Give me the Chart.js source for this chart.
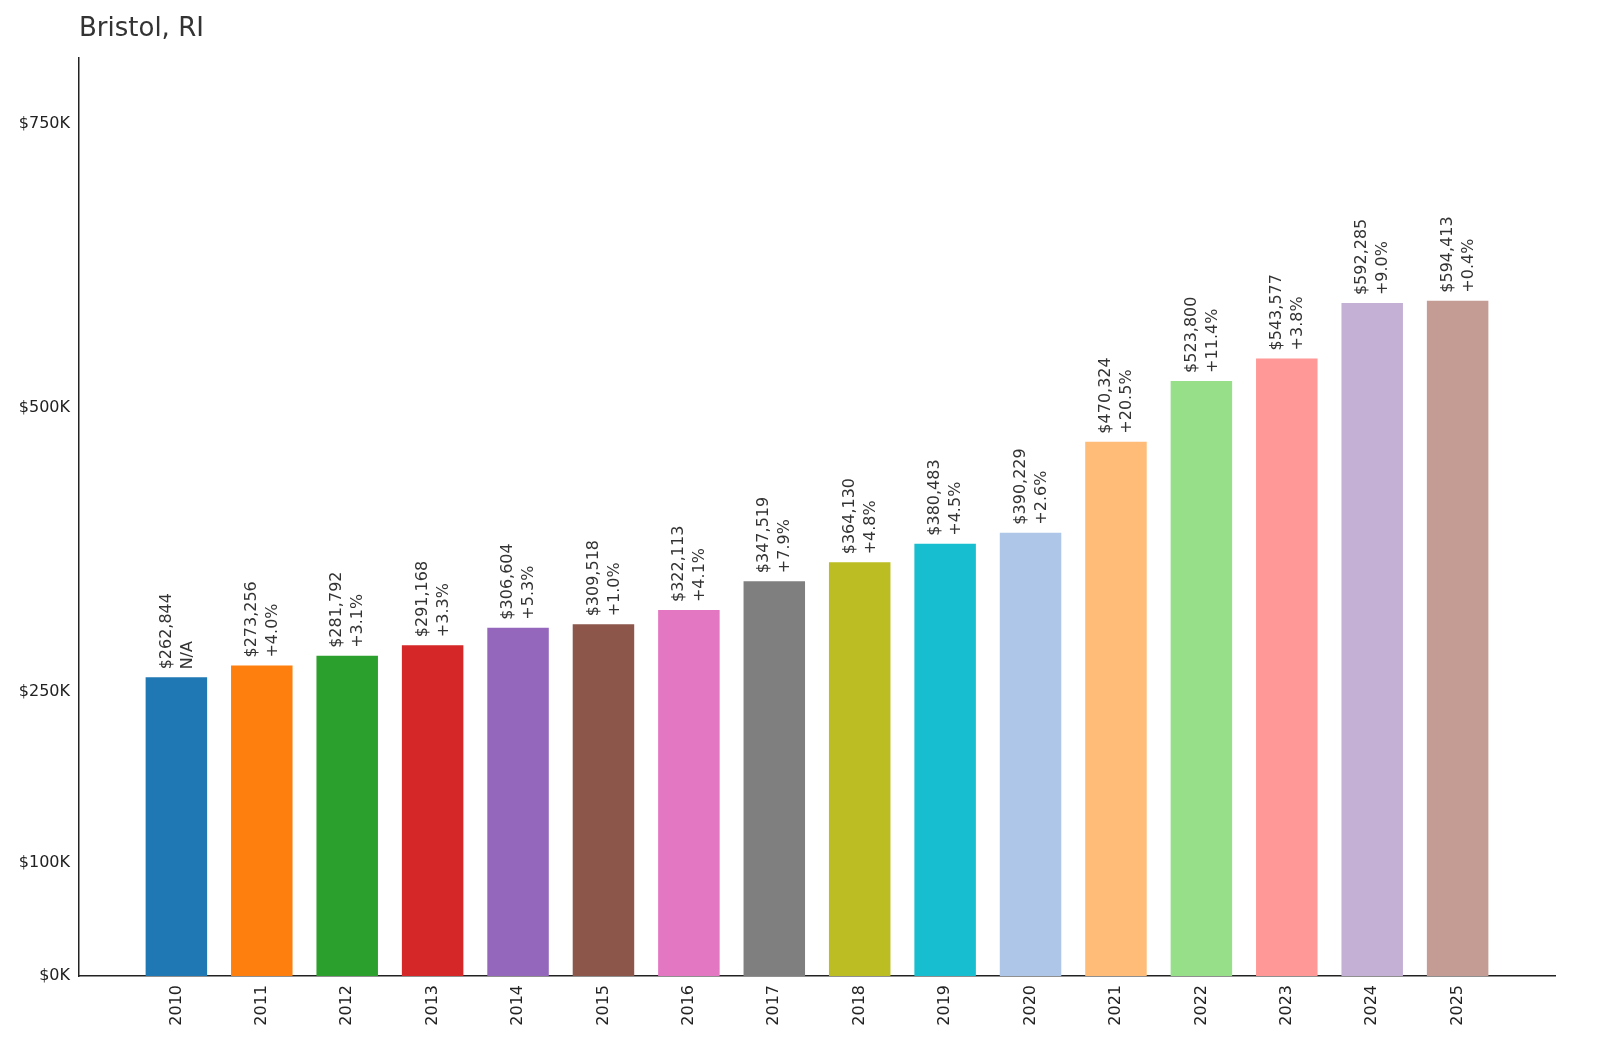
<!DOCTYPE html>
<html><head><meta charset="utf-8">
<script src="https://cdn.jsdelivr.net/npm/chart.js@4"></script>
<style>html,body{margin:0;padding:0;background:#fff}#w{width:1600px;height:1063px}</style>
</head><body><div id="w"><canvas id="c"></canvas></div>
<script>
const years=["2010","2011","2012","2013","2014","2015","2016","2017","2018","2019","2020","2021","2022","2023","2024","2025"];
const values=[262844,273256,281792,291168,306604,309518,322113,347519,364130,380483,390229,470324,523800,543577,592285,594413];
const changes=["N/A","+4.0%","+3.1%","+3.3%","+5.3%","+1.0%","+4.1%","+7.9%","+4.8%","+4.5%","+2.6%","+20.5%","+11.4%","+3.8%","+9.0%","+0.4%"];
const colors=["#1f77b4","#ff7f0e","#2ca02c","#d62728","#9467bd","#8c564b","#e377c2","#7f7f7f","#bcbd22","#17becf","#aec7e8","#ffbb78","#98df8a","#ff9896","#c5b0d5","#c49c94"];
const yTicks=[0,100000,250000,500000,750000];
const F="DejaVu Sans";
const plug={id:'p',afterDatasetsDraw(ch){
 const ctx=ch.ctx,meta=ch.getDatasetMeta(0);
 ctx.save();ctx.fillStyle='#333';ctx.font='16px "'+F+'"';
 meta.data.forEach((b,i)=>{
  ctx.save();ctx.translate(b.x,b.y-8);ctx.rotate(-Math.PI/2);
  ctx.textAlign='left';ctx.textBaseline='middle';
  ctx.fillText('$'+values[i].toLocaleString('en-US'),0,-10);
  ctx.fillText(changes[i],0,11);
  ctx.restore();
 });
 ctx.font='26px "'+F+'"';ctx.textAlign='left';ctx.textBaseline='alphabetic';
 ctx.fillText('Bristol, RI',79,36);
 ctx.restore();
}};
new Chart(document.getElementById('c'),{
 type:'bar',
 data:{datasets:[{data:values.map((v,i)=>({x:i,y:v})),backgroundColor:colors,barPercentage:0.72,categoryPercentage:1}]},
 options:{responsive:true,maintainAspectRatio:false,animation:false,
  layout:{padding:{top:58,right:45,left:0,bottom:0}},
  plugins:{legend:{display:false},tooltip:{enabled:false}},
  scales:{
   x:{type:'linear',min:-1.14,max:16.14,offset:false,
    afterBuildTicks(s){s.ticks=years.map((y,i)=>({value:i}));},
    afterFit(s){s.height=87;},
    ticks:{autoSkip:false,maxRotation:90,minRotation:90,color:'#222',font:{family:F,size:16},callback:(v)=>years[v]},
    grid:{display:false,drawTicks:true,tickLength:6,tickColor:'#222'},border:{color:'#222',width:1.5}},
   y:{min:0,max:808000,
    afterBuildTicks(s){s.ticks=yTicks.map(v=>({value:v}));},
    afterFit(s){s.width=79;},
    ticks:{color:'#222',font:{family:F,size:16},callback:v=>'$'+(v/1000)+'K'},
    grid:{display:false,drawTicks:true,tickLength:6,tickColor:'#222'},border:{color:'#222',width:1.5}}
  }},
 plugins:[plug]});
</script></body></html>
